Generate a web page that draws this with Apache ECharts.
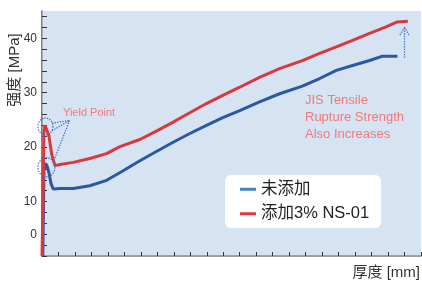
<!DOCTYPE html>
<html>
<head>
<meta charset="utf-8">
<script src="https://cdn.jsdelivr.net/npm/echarts@6/dist/echarts.min.js"></script>
<style>
  html, body { margin: 0; padding: 0; background: #fff; }
  #main { width: 422px; height: 282px; }
</style>
</head>
<body>
<div id="main"></div>
<script>
// 数据：厚度 (x) / 强度 (y)
var seriesNames = ['未添加', '添加3% NS-01'];
var blueX = [0.05, 0.12, 0.21, 0.3, 0.42, 0.55, 0.68, 1.09, 1.9, 2.9, 3.92, 4.9, 5.94, 6.94, 7.96, 8.97, 9.98, 10.97, 12.0, 13.2, 14.42, 15.8, 16.85, 17.86, 18.85, 19.88, 20.67, 21.57];
var blueY = [0, 15.7, 17.0, 16.6, 15.3, 13.3, 12.3, 12.4, 12.4, 12.9, 13.9, 15.6, 17.5, 19.2, 20.9, 22.5, 24.0, 25.4, 26.7, 28.3, 29.8, 31.2, 32.6, 34.1, 35.0, 35.9, 36.7, 36.7];
var redX = [0, 0.06, 0.12, 0.18, 0.3, 0.42, 0.6, 0.79, 1.09, 1.9, 2.9, 3.92, 4.73, 5.94, 6.91, 7.96, 8.97, 9.98, 10.97, 12.0, 13.2, 14.42, 15.8, 16.85, 17.86, 18.85, 19.88, 20.8, 21.57, 22.2];
var redY = [0, 10.2, 23, 24.0, 24.0, 22.1, 18.5, 16.6, 16.8, 17.2, 17.9, 18.8, 20.1, 21.4, 22.9, 24.6, 26.3, 28.0, 29.5, 31.0, 32.8, 34.4, 35.9, 37.2, 38.4, 39.6, 40.9, 42.0, 43.0, 43.1];

// y 轴刻度（原图 "0" 标在 4 的位置）
var yTickValues = [4, 10, 20, 30, 40];
var yTickLabels = ['0', '10', '20', '30', '40'];
var yMinorTicks = [0, 2, 4, 6, 8, 10, 12, 14, 16, 18, 20, 22, 24, 26, 28, 30, 32, 34, 36, 38, 40, 42, 44];

// 注释：屈服点椭圆、虚线、箭头
var yieldRed = [0.21, 23.8];
var yieldBlue = [0.27, 16.3];
var yieldLines = [
  [[0.61, 24.4], [1.67, 24.9]],
  [[0.61, 23.0], [1.67, 24.9]],
  [[1.67, 24.9], [0.67, 17.1]]
];
var arrowLines = [
  [[22.0, 36.4], [22.0, 42.0]],
  [[21.72, 40.6], [22.0, 42.0]],
  [[22.27, 40.6], [22.0, 42.0]]
];

function zip(xs, ys) {
  var out = [];
  for (var i = 0; i < xs.length; i++) out.push([xs[i], ys[i]]);
  return out;
}
function segs(list) {
  return list.map(function (s) {
    return [{ coord: s[0] }, { coord: s[1] }];
  });
}

var FONT = '"Liberation Sans", "Noto Sans CJK SC", sans-serif';
var dotStyle = { color: '#3f6fbf', type: 'dotted', width: 1.3 };

var chartDom = document.getElementById('main');
var myChart = echarts.init(chartDom);
var option;

option = {
  animation: false,
  textStyle: { fontFamily: FONT },
  grid: {
    left: 42, right: 1, top: 11, bottom: 26,
    show: true,
    backgroundColor: '#d6e3f2',
    borderWidth: 0
  },
  legend: {
    orient: 'vertical',
    left: 225,
    top: 175,
    padding: [6, 12, 6, 15],
    backgroundColor: '#ffffff',
    borderRadius: 6,
    icon: 'rect',
    itemWidth: 16,
    itemHeight: 3,
    itemGap: 8,
    itemTextGap: 19,
    textStyle: { fontSize: 16.5, color: '#222', fontFamily: FONT },
    data: [
      { name: seriesNames[0], itemStyle: { color: '#3d86c8' } },
      { name: seriesNames[1], itemStyle: { color: '#e03a3f' } }
    ]
  },
  xAxis: [
    {
      type: 'value',
      min: 0, max: 23, interval: 1,
      axisLine: { show: true, lineStyle: { color: '#c4d0dc' } },
      axisTick: { show: true, inside: true, length: 4, lineStyle: { color: '#333' } },
      axisLabel: { show: false },
      splitLine: { show: false }
    },
    {
      type: 'value', position: 'top',
      min: 0, max: 23,
      axisLine: { show: true, lineStyle: { color: '#8a8a8a', width: 1.5 } },
      axisTick: { show: false }, axisLabel: { show: false }, splitLine: { show: false }
    }
  ],
  yAxis: [
    {
      type: 'value',
      min: 0, max: 45,
      axisLine: { show: true, lineStyle: { color: '#555', width: 1.5 } },
      axisTick: { show: true, inside: true, length: 5, customValues: yMinorTicks, lineStyle: { color: '#333' } },
      axisLabel: {
        show: true,
        customValues: yTickValues,
        margin: 5,
        fontSize: 12,
        color: '#333',
        fontFamily: FONT,
        formatter: function (v) {
          var i = yTickValues.indexOf(v);
          return i >= 0 ? yTickLabels[i] : '';
        }
      },
      splitLine: { show: false }
    },
    {
      type: 'value', position: 'right',
      min: 0, max: 45,
      axisLine: { show: true, lineStyle: { color: '#a8b2bc' } },
      axisTick: { show: false }, axisLabel: { show: false }, splitLine: { show: false }
    }
  ],
  graphic: [
    {
      type: 'text', x: 15, y: 70, rotation: Math.PI / 2,
      style: { text: '强度 [MPa]', fill: '#333', font: '15px ' + FONT, align: 'center', verticalAlign: 'middle' }
    },
    {
      type: 'text', x: 420, y: 273,
      style: { text: '厚度 [mm]', fill: '#333', font: '15px ' + FONT, align: 'right', verticalAlign: 'middle' }
    },
    {
      type: 'text', x: 63, y: 113,
      style: { text: 'Yield Point', fill: '#f07a7a', font: '11px ' + FONT, align: 'left', verticalAlign: 'middle' }
    },
    {
      type: 'text', x: 305, y: 92,
      style: {
        text: 'JIS Tensile\nRupture Strength\nAlso Increases',
        fill: '#f07a7a', font: '13px ' + FONT, lineHeight: 17, align: 'left', verticalAlign: 'top'
      }
    }
  ],
  series: [
    {
      name: seriesNames[0],
      type: 'line',
      data: zip(blueX, blueY),
      symbol: 'none',
      lineStyle: { color: '#2b58a2', width: 3 },
      itemStyle: { color: '#2b58a2' },
      z: 2
    },
    {
      name: seriesNames[1],
      type: 'line',
      data: zip(redX, redY),
      symbol: 'none',
      lineStyle: { color: '#d63a3c', width: 3 },
      itemStyle: { color: '#d63a3c' },
      z: 3,
      markPoint: {
        silent: true,
        label: { show: false },
        itemStyle: { color: 'rgba(0,0,0,0)', borderColor: '#3f6fbf', borderType: 'dotted', borderWidth: 1.3 },
        data: [
          { coord: yieldRed, symbol: 'circle', symbolSize: [15, 17] },
          { coord: yieldBlue, symbol: 'circle', symbolSize: [17, 19] }
        ]
      },
      markLine: {
        silent: true,
        symbol: ['none', 'none'],
        label: { show: false },
        lineStyle: dotStyle,
        data: segs(yieldLines).concat(segs(arrowLines))
      }
    }
  ]
};

option && myChart.setOption(option);
</script>
</body>
</html>
